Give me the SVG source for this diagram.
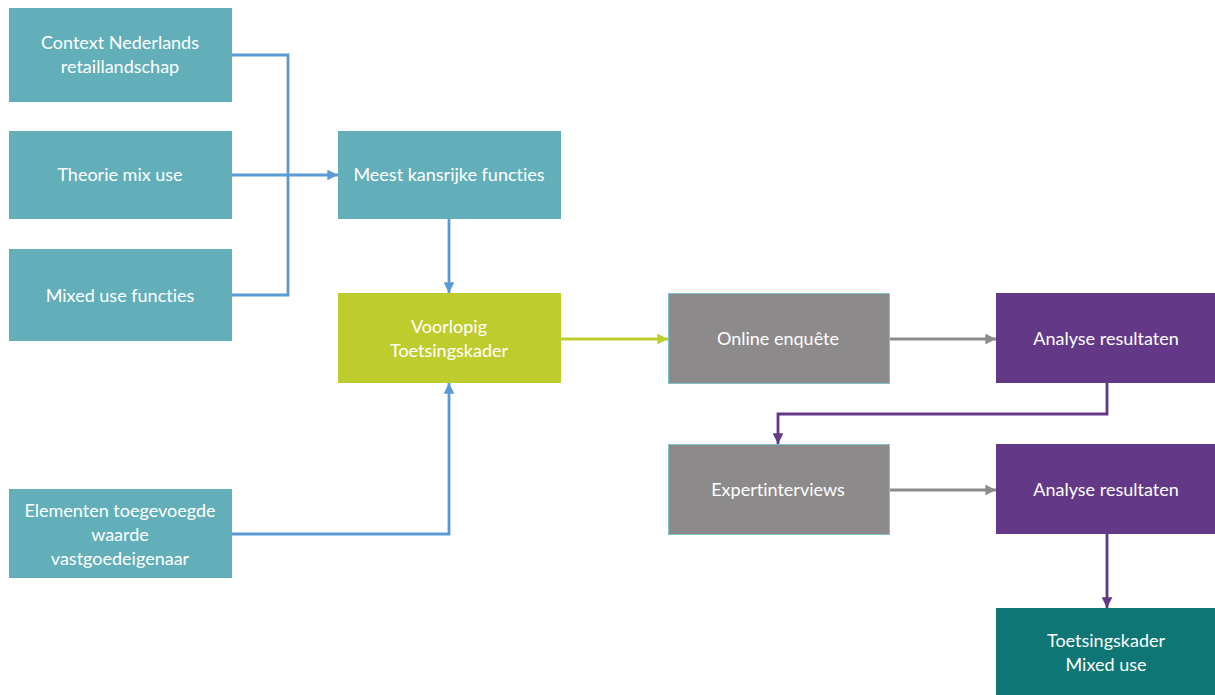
<svg xmlns="http://www.w3.org/2000/svg" width="1215" height="695" viewBox="0 0 1215 695">
  <style>
    .t { font-family: Lato, "Open Sans", "Liberation Sans", sans-serif; font-size: 18px; fill: #ffffff; text-anchor: middle; font-variant-ligatures: none; font-feature-settings: "liga" 0; }
    .teal { fill: #62AFB9; }
    .lime { fill: #BFCC2E; }
    .grey { fill: #8C8A8B; stroke: #7FC3CC; stroke-width: 1; }
    .purple { fill: #633987; }
    .dark { fill: #0E7674; }
    .c { fill: none; stroke-width: 2.8; }
    .blue { stroke: #5B9BD5; }
    .green { stroke: #BFCC2E; }
    .gline { stroke: #8C8A8B; }
    .pline { stroke: #633987; }
  </style>
  <defs>
    <marker id="ab" viewBox="0 0 10 10" refX="10" refY="5" markerWidth="3.8" markerHeight="3.8" orient="auto" markerUnits="strokeWidth">
      <path d="M0,0 L10,5 L0,10 z" fill="#5B9BD5"/>
    </marker>
    <marker id="ag" viewBox="0 0 10 10" refX="10" refY="5" markerWidth="3.8" markerHeight="3.8" orient="auto" markerUnits="strokeWidth">
      <path d="M0,0 L10,5 L0,10 z" fill="#BFCC2E"/>
    </marker>
    <marker id="agr" viewBox="0 0 10 10" refX="10" refY="5" markerWidth="3.8" markerHeight="3.8" orient="auto" markerUnits="strokeWidth">
      <path d="M0,0 L10,5 L0,10 z" fill="#8C8A8B"/>
    </marker>
    <marker id="ap" viewBox="0 0 10 10" refX="10" refY="5" markerWidth="3.8" markerHeight="3.8" orient="auto" markerUnits="strokeWidth">
      <path d="M0,0 L10,5 L0,10 z" fill="#633987"/>
    </marker>
  </defs>

  <g id="connectors">
    <path class="c blue" d="M232,55 H288 V295 H232"/>
    <path class="c blue" d="M232,175 H338" marker-end="url(#ab)"/>
    <path class="c blue" d="M449,219 V293" marker-end="url(#ab)"/>
    <path class="c blue" d="M232,534 H449 V383" marker-end="url(#ab)"/>
    <path class="c green" d="M561,339 H668" marker-end="url(#ag)"/>
    <path class="c gline" d="M889,339 H996" marker-end="url(#agr)"/>
    <path class="c pline" d="M1107,383 V414 H778 V444" marker-end="url(#ap)"/>
    <path class="c gline" d="M889,490 H996" marker-end="url(#agr)"/>
    <path class="c pline" d="M1107,534 V608" marker-end="url(#ap)"/>
  </g>

  <g id="context">
    <rect class="teal" x="9" y="8" width="223" height="94"/>
    <text class="t" x="120" y="49">Context Nederlands</text>
    <text class="t" x="120" y="73">retaillandschap</text>
  </g>
  <g id="theorie">
    <rect class="teal" x="9" y="131" width="223" height="88"/>
    <text class="t" x="120" y="181">Theorie mix use</text>
  </g>
  <g id="mixed-use-functies">
    <rect class="teal" x="9" y="249" width="223" height="92"/>
    <text class="t" x="120" y="302">Mixed use functies</text>
  </g>
  <g id="elementen">
    <rect class="teal" x="9" y="489" width="223" height="89"/>
    <text class="t" x="120" y="517">Elementen toegevoegde</text>
    <text class="t" x="120" y="541">waarde</text>
    <text class="t" x="120" y="565">vastgoedeigenaar</text>
  </g>
  <g id="meest-kansrijk">
    <rect class="teal" x="338" y="131" width="223" height="88"/>
    <text class="t" x="449" y="181">Meest kansrijke functies</text>
  </g>
  <g id="voorlopig">
    <rect class="lime" x="338" y="293" width="223" height="90"/>
    <text class="t" x="449" y="333">Voorlopig</text>
    <text class="t" x="449" y="357">Toetsingskader</text>
  </g>
  <g id="online-enquete">
    <rect class="grey" x="668.5" y="293.5" width="221" height="90"/>
    <text class="t" x="778" y="345">Online enquête</text>
  </g>
  <g id="analyse-1">
    <rect class="purple" x="996" y="293" width="219" height="90"/>
    <text class="t" x="1106" y="345">Analyse resultaten</text>
  </g>
  <g id="expertinterviews">
    <rect class="grey" x="668.5" y="444.5" width="221" height="90"/>
    <text class="t" x="778" y="496">Expertinterviews</text>
  </g>
  <g id="analyse-2">
    <rect class="purple" x="996" y="444" width="219" height="90"/>
    <text class="t" x="1106" y="496">Analyse resultaten</text>
  </g>
  <g id="toetsingskader">
    <rect class="dark" x="996" y="608" width="219" height="87"/>
    <text class="t" x="1106" y="647">Toetsingskader</text>
    <text class="t" x="1106" y="671">Mixed use</text>
  </g>
</svg>
